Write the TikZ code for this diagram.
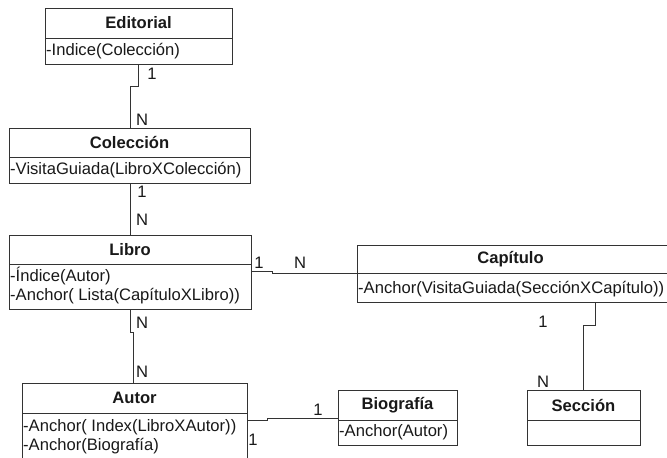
\documentclass[tikz,border=0pt]{standalone}
\usepackage{fontspec}
\setmainfont{Liberation Sans}
\tikzset{
  cls/.style={draw=black!80, line width=1pt, fill=white, inner sep=0pt, outer sep=0pt, anchor=north west},
  divl/.style={draw=black!80, line width=1pt},
  ttl/.style={font=\bfseries\fontsize{16.6}{19}\selectfont, inner sep=0pt, text=black!90},
  att/.style={font=\fontsize{16.6}{19}\selectfont, inner sep=0pt, anchor=west, text=black!90},
  lbl/.style={font=\fontsize{16.6}{19}\selectfont, inner sep=0pt, text=black!90},
  conn/.style={draw=black!80, line width=1pt}
}
\begin{document}
\begin{tikzpicture}[x=1pt,y=-1pt]
\useasboundingbox[fill=white] (0,0) rectangle (667,458);

% Editorial
\node[cls, minimum width=187pt, minimum height=56pt] (ed) at (45,8) {};
\draw[divl] ([yshift=-30pt]ed.north west) -- ([yshift=-30pt]ed.north east);
\node[ttl] (edT) at ([yshift=-15pt]ed.north) {Editorial};
\node[att] (edA) at ([yshift=-43pt,xshift=1pt]ed.north west) {-Indice(Colección)};

% Coleccion
\node[cls, minimum width=241pt, minimum height=55pt] (co) at (9,128) {};
\draw[divl] ([yshift=-29pt]co.north west) -- ([yshift=-29pt]co.north east);
\node[ttl] (coT) at ([yshift=-14.5pt]co.north) {Colección};
\node[att] (coA) at ([yshift=-42pt,xshift=1pt]co.north west) {-VisitaGuiada(LibroXColección)};

% Libro
\node[cls, minimum width=242pt, minimum height=74pt] (li) at (9,235) {};
\draw[divl] ([yshift=-29pt]li.north west) -- ([yshift=-29pt]li.north east);
\node[ttl] (liT) at ([yshift=-14.5pt]li.north) {Libro};
\node[att] (liA1) at ([yshift=-41pt,xshift=1pt]li.north west) {-Índice(Autor)};
\node[att] (liA2) at ([yshift=-61pt,xshift=1pt]li.north west) {-Anchor( Lista(CapítuloXLibro))};

% Capitulo
\node[cls, minimum width=310pt, minimum height=57pt] (ca) at (357,245) {};
\draw[divl] ([yshift=-28pt]ca.north west) -- ([yshift=-28pt]ca.north east);
\node[ttl] (caT) at ([yshift=-14pt,xshift=-1.5pt]ca.north) {Capítulo};
\node[att] (caA) at ([yshift=-44pt,xshift=1pt]ca.north west) {-Anchor(VisitaGuiada(SecciónXCapítulo))};

% Autor
\node[cls, minimum width=225pt, minimum height=78pt] (au) at (22,383) {};
\draw[divl] ([yshift=-30pt]au.north west) -- ([yshift=-30pt]au.north east);
\node[ttl] (auT) at ([yshift=-15pt]au.north) {Autor};
\node[att] (auA1) at ([yshift=-44pt,xshift=1pt]au.north west) {-Anchor( Index(LibroXAutor))};
\node[att] (auA2) at ([yshift=-63pt,xshift=1pt]au.north west) {-Anchor(Biografía)};

% Biografia
\node[cls, minimum width=119pt, minimum height=55pt] (bi) at (338,390) {};
\draw[divl] ([yshift=-30pt]bi.north west) -- ([yshift=-30pt]bi.north east);
\node[ttl] (biT) at ([yshift=-15pt]bi.north) {Biografía};
\node[att] (biA) at ([yshift=-42pt,xshift=1pt]bi.north west) {-Anchor(Autor)};

% Seccion
\node[cls, minimum width=113pt, minimum height=55pt] (se) at (527,390) {};
\draw[divl] ([yshift=-30pt]se.north west) -- ([yshift=-30pt]se.north east);
\node[ttl] (seT) at ([yshift=-15pt]se.north) {Sección};

% Connectors
\draw[conn] ([xshift=93pt]ed.south west) -- ++(0,22) -- ++(-8,0) -- ([xshift=121pt]co.north west);
\draw[conn] ([xshift=121pt]co.south west) -- ([xshift=121pt]li.north west);
\draw[conn] ([yshift=-36pt]li.north east) -- ++(21,0) |- ([yshift=-28pt]ca.north west);
\draw[conn] ([xshift=121pt]li.south west) -- ++(0,23) -| ([xshift=111pt]au.north west);
\draw[conn] ([yshift=-37pt]au.north east) -- ++(20,0) |- ([yshift=-28pt]bi.north west);
\draw[conn] ([xshift=238pt]ca.south west) -- ++(0,23) -| ([xshift=56pt]se.north west);

% Multiplicities
\node[lbl] (m1) at (152,74) {1};
\node[lbl] (m2) at (142,120) {N};
\node[lbl] (m3) at (142,192) {1};
\node[lbl] (m4) at (142,220) {N};
\node[lbl] (m5) at (259,263) {1};
\node[lbl] (m6) at (300,263) {N};
\node[lbl] (m7) at (142,323) {N};
\node[lbl] (m8) at (142,372) {N};
\node[lbl] (m9) at (318,410) {1};
\node[lbl] (m10) at (253,440) {1};
\node[lbl] (m11) at (543,322) {1};
\node[lbl] (m12) at (543,382) {N};
\end{tikzpicture}
\end{document}
